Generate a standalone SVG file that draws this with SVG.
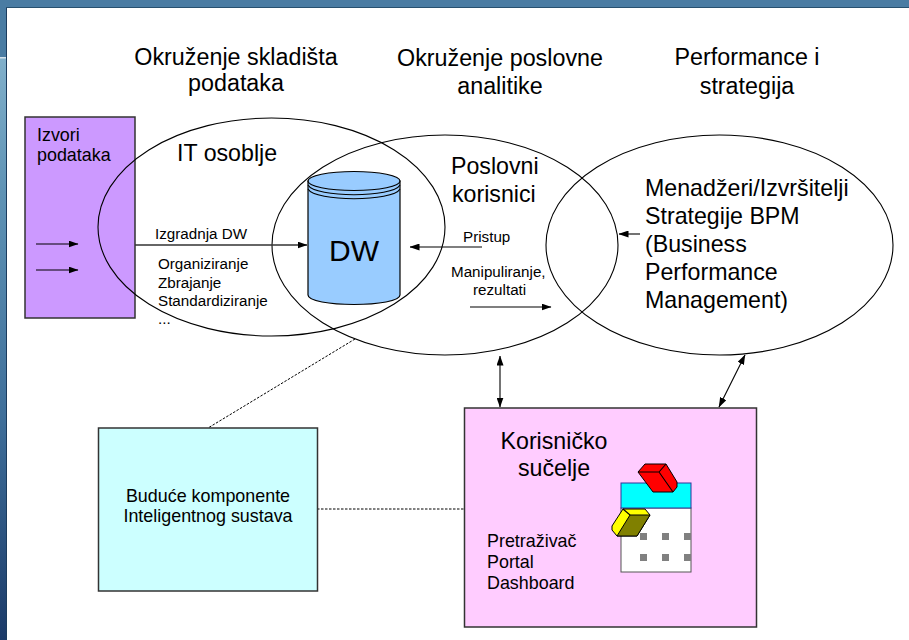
<svg xmlns="http://www.w3.org/2000/svg" width="909" height="640" viewBox="0 0 909 640">
<style>
text{font-family:"Liberation Sans",Arial,sans-serif;fill:#000}
.h{font-size:23.3px;text-anchor:middle}
.m{font-size:23.2px}
.s{font-size:15.2px}
.t{font-size:17.9px}
.e{fill:none;stroke:#000;stroke-width:1.1}
.c{fill:none;stroke:#000;stroke-width:1.1}
.d{fill:none;stroke:#000;stroke-width:1;stroke-dasharray:2.500 1.500}
.b{stroke:#333;stroke-width:1.5}
</style>
<defs>
<linearGradient id="bg" x1="0" y1="0" x2="0" y2="1"><stop offset="0" stop-color="#8fbcd4"/><stop offset=".3" stop-color="#5f93b5"/><stop offset=".65" stop-color="#3f6f9a"/><stop offset="1" stop-color="#1b3a68"/></linearGradient>
<marker id="a" markerWidth="10" markerHeight="7" refX="9.500" refY="3.500" orient="auto-start-reverse" markerUnits="userSpaceOnUse"><path d="M0 0L10 3.500L0 7z" fill="#000"/></marker>
</defs>
<g id="background">
<rect width="909" height="640" fill="#fff"/>
<rect width="7" height="640" fill="url(#bg)"/>
<rect width="909" height="7.500" fill="#4a7ca3"/>
<rect width="7" height="57" fill="#4a7ca3"/>
<rect y="57" width="7" height="1.500" fill="#d5e2ec"/>
<rect x="6" y="7" width="1" height="633" fill="#1c3c5e"/>
<rect x="6" y="7" width="903" height="1" fill="#27506f"/>
</g>
<g id="source">
<rect class="b" x="25" y="117" width="110" height="201" fill="#cc99ff"/>
<text x="37" y="141" class="t">Izvori</text>
<text x="37" y="161" class="t">podataka</text>
</g>
<g id="ellipses">
<ellipse class="e" cx="271.500" cy="227" rx="173.500" ry="109"/>
<ellipse class="e" cx="445" cy="245" rx="173" ry="110"/>
<ellipse class="e" cx="719.500" cy="245" rx="173.500" ry="110"/>
</g>
<g id="dw">
<path d="M308 181V295C308 301 330 304.500 354 304.500C378 304.500 400 301 400 295V181z" fill="#99ccff" stroke="#000" stroke-width="1.200"/>
<ellipse cx="354" cy="181" rx="46" ry="9.500" fill="#99ccff" stroke="#000" stroke-width="1.200"/>
<path class="c" d="M308 185C315 198 393 198 400 185M308 189C315 202 393 202 400 189"/>
<text x="354" y="261" text-anchor="middle" style="font-size:30px">DW</text>
</g>
<g id="connectors">
<path class="c" marker-end="url(#a)" d="M36 244H78"/>
<path class="c" marker-end="url(#a)" d="M36 270H78"/>
<path class="c" style="stroke:#333;stroke-width:1.500" marker-end="url(#a)" d="M135 245H307"/>
<path class="c" marker-end="url(#a)" d="M482 247H410"/>
<path class="c" marker-end="url(#a)" d="M470 307H551"/>
<path class="c" marker-end="url(#a)" d="M640 234H619"/>
<path class="c" marker-start="url(#a)" marker-end="url(#a)" d="M500 356V407"/>
<path class="c" marker-start="url(#a)" marker-end="url(#a)" d="M745 355L719 407"/>
<path class="d" d="M355 339L208 428"/>
<path class="d" d="M317 509H464"/>
</g>
<g id="labels">
<text class="h" x="236" y="65">Okruženje skladišta</text>
<text class="h" x="236" y="91">podataka</text>
<text class="h" x="500" y="66">Okruženje poslovne</text>
<text class="h" x="500" y="94">analitike</text>
<text class="h" x="747" y="65">Performance i</text>
<text class="h" x="747" y="94">strategija</text>
<text class="m" x="177" y="161">IT osoblje</text>
<text class="m" x="451" y="174">Poslovni</text>
<text class="m" x="452" y="202">korisnici</text>
<text class="m" x="645" y="196">Menadžeri/Izvršitelji</text>
<text class="m" x="645" y="224">Strategije BPM</text>
<text class="m" x="645" y="252">(Business</text>
<text class="m" x="645" y="280">Performance</text>
<text class="m" x="645" y="308">Management)</text>
<text class="s" x="155" y="239">Izgradnja DW</text>
<text class="s" x="158" y="269">Organiziranje</text>
<text class="s" x="158" y="288">Zbrajanje</text>
<text class="s" x="158" y="306">Standardiziranje</text>
<text class="s" x="158" y="324">...</text>
<text class="s" x="463" y="242">Pristup</text>
<text class="s" x="451" y="277">Manipuliranje,</text>
<text class="s" x="473" y="295">rezultati</text>
</g>
<g id="future">
<rect class="b" x="98.500" y="428" width="219" height="163" fill="#ccffff"/>
<text class="t" x="208" y="502" text-anchor="middle">Buduće komponente</text>
<text class="t" x="208" y="522" text-anchor="middle">Inteligentnog sustava</text>
</g>
<g id="ui">
<rect class="b" x="464.500" y="408" width="292" height="219" fill="#ffccff"/>
<text class="m" x="554" y="449" text-anchor="middle">Korisničko</text>
<text class="m" x="554" y="476" text-anchor="middle">sučelje</text>
<text class="t" x="487" y="547">Pretraživač</text>
<text class="t" x="487" y="568">Portal</text>
<text class="t" x="487" y="589">Dashboard</text>
<rect x="621" y="508" width="70" height="64" fill="#fff" stroke="#555" stroke-width="1"/>
<rect x="621" y="483" width="70" height="25" fill="#00ffff" stroke="#333399" stroke-width="1"/>
<g fill="#808080"><rect x="640" y="533" width="7" height="7"/><rect x="662" y="533" width="7" height="7"/><rect x="684" y="533" width="7" height="7"/><rect x="640" y="554" width="7" height="7"/><rect x="662" y="554" width="7" height="7"/><rect x="684" y="554" width="7" height="7"/></g>
<g stroke="#000" stroke-width="1" stroke-linejoin="round">
<path d="M638 472L645 464H666L677 482V487L673 492H653z" fill="#ff0000"/>
<path class="c" d="M638 472H659L673 492M659 472L666 464"/>
<path d="M623 509H645L650 515L637 536H617L612 530V526z" fill="#ffff00"/>
<path d="M630 515H650L637 536H617z" fill="#808000"/>
<path class="c" d="M623 509L630 515"/>
</g>
</g>
</svg>
